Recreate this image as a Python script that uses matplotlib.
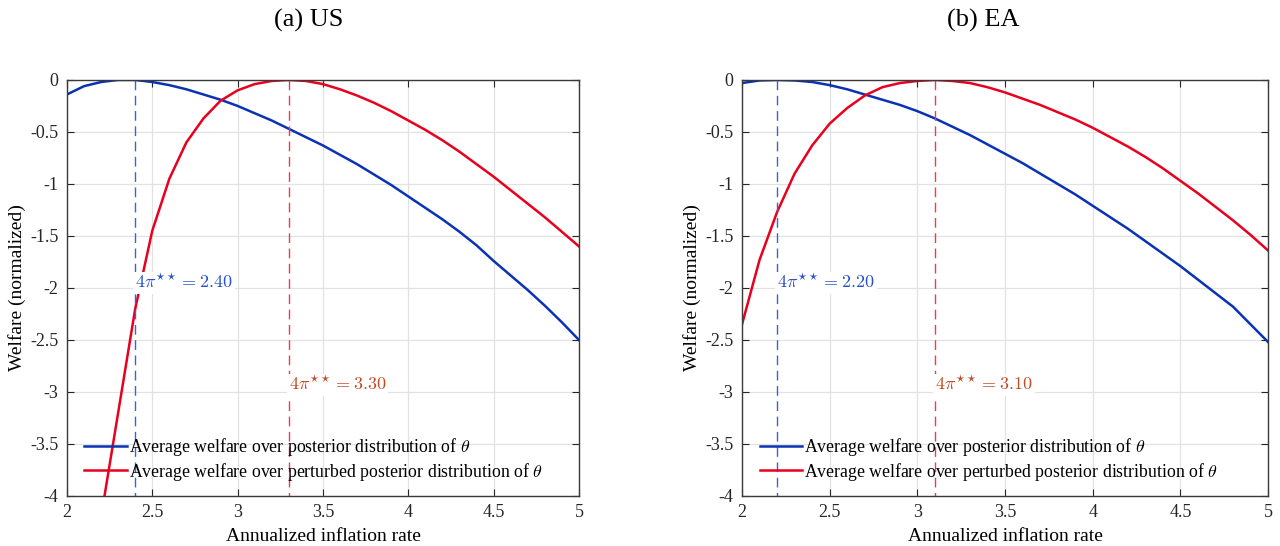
import numpy as np
import matplotlib
matplotlib.use("Agg")
import matplotlib.pyplot as plt

plt.rcParams["font.family"] = ["Liberation Serif", "DejaVu Serif"]
plt.rcParams["mathtext.fontset"] = "cm"
plt.rcParams["axes.unicode_minus"] = False

# inflation grid (annualized, %)
infl = [2.0, 2.1, 2.2, 2.3, 2.4, 2.5, 2.6, 2.7, 2.8, 2.9, 3.0, 3.1, 3.2, 3.3, 3.4, 3.5,
        3.6, 3.7, 3.8, 3.9, 4.0, 4.1, 4.2, 4.3, 4.4, 4.5, 4.6, 4.7, 4.8, 4.9, 5.0]

# US
us_post = [-0.14, -0.06, -0.02, 0.0, 0.0, -0.02, -0.05, -0.09, -0.14, -0.19, -0.25, -0.32,
           -0.39, -0.47, -0.55, -0.63, -0.72, -0.81, -0.91, -1.01, -1.12, -1.23, -1.34,
           -1.46, -1.59, -1.74, -1.88, -2.02, -2.17, -2.33, -2.50]
us_pert = [-6.5, -5.3, -4.2, -3.2, -2.2, -1.45, -0.95, -0.60, -0.37, -0.20, -0.10, -0.04,
           -0.01, 0.0, -0.01, -0.04, -0.09, -0.15, -0.22, -0.30, -0.39, -0.48, -0.58,
           -0.69, -0.81, -0.93, -1.06, -1.19, -1.32, -1.46, -1.60]
us_opt = [2.40, 3.30]

# EA
ea_post = [-0.03, -0.005, 0.0, -0.005, -0.02, -0.05, -0.09, -0.14, -0.19, -0.24, -0.30, -0.37,
           -0.45, -0.53, -0.62, -0.71, -0.80, -0.90, -1.00, -1.10, -1.21, -1.32, -1.43,
           -1.55, -1.67, -1.79, -1.92, -2.05, -2.18, -2.35, -2.52]
ea_pert = [-2.35, -1.73, -1.27, -0.90, -0.63, -0.42, -0.27, -0.15, -0.07, -0.03, -0.01, 0.0,
           -0.01, -0.03, -0.07, -0.12, -0.18, -0.24, -0.31, -0.38, -0.46, -0.55, -0.64,
           -0.74, -0.85, -0.97, -1.09, -1.22, -1.35, -1.49, -1.64]
ea_opt = [2.20, 3.10]

panels = [("(a) US", us_post, us_pert, us_opt), ("(b) EA", ea_post, ea_pert, ea_opt)]

blue = "#0a32b4"
red = "#e8001e"
blue_txt = "#2850c8"
red_txt = "#c04a22"

fig = plt.figure(figsize=(12.8, 5.46), dpi=100)
positions = [[0.0523, 0.0916, 0.400, 0.762], [0.5797, 0.0916, 0.411, 0.762]]
title_x = [0.2414, 0.768]

for pos, tx, (title, post, pert, opt) in zip(positions, title_x, panels):
    ax = fig.add_axes(pos)
    ax.plot(infl, post, color=blue, lw=1.8,
            label=r"Average welfare over posterior distribution of $\theta$")
    ax.plot(infl, pert, color=red, lw=1.8,
            label=r"Average welfare over perturbed posterior distribution of $\theta$")
    ax.plot([opt[0], opt[0]], [0, -4], color="#3a62dc", lw=1.0, ls=(0, (7, 4)))
    ax.plot([opt[1], opt[1]], [0, -4], color="#f03a55", lw=1.0, ls=(0, (7, 4)))
    ax.text(opt[0], -1.95, r"$4\pi^{\star\star} = %.2f$" % opt[0], color=blue_txt,
            fontsize=13, va="center", ha="left",
            bbox=dict(facecolor="white", edgecolor="none", pad=1.5))
    ax.text(opt[1], -2.93, r"$4\pi^{\star\star} = %.2f$" % opt[1], color=red_txt,
            fontsize=13, va="center", ha="left",
            bbox=dict(facecolor="white", edgecolor="none", pad=1.5))

    ax.set_xlim(2, 5)
    ax.set_ylim(-4, 0)
    ax.set_xticks(np.arange(2, 5.01, 0.5))
    ax.set_xticklabels(["2", "2.5", "3", "3.5", "4", "4.5", "5"])
    ax.set_yticks(np.arange(-4, 0.01, 0.5))
    ax.set_yticklabels(["-4", "-3.5", "-3", "-2.5", "-2", "-1.5", "-1", "-0.5", "0"])
    ax.tick_params(direction="in", top=True, right=True, labelsize=13, length=5,
                   colors="#262626", pad=6)
    ax.grid(True, color="#e2e2e2", lw=0.9)
    ax.set_axisbelow(True)
    for s in ax.spines.values():
        s.set_color("#3a3a3a")
        s.set_linewidth(1.0)
    ax.set_xlabel("Annualized inflation rate", fontsize=14, labelpad=5)
    ax.set_ylabel("Welfare (normalized)", fontsize=14, labelpad=3)
    ax.legend(loc="lower left", bbox_to_anchor=(0.02, 0.015), frameon=False, fontsize=12.8,
              handlelength=2.4, handletextpad=0.1, labelspacing=0.15, borderaxespad=0)
    fig.text(tx, 0.963, title, fontsize=19, ha="center", va="center")

fig.savefig("out.png", dpi=100)
